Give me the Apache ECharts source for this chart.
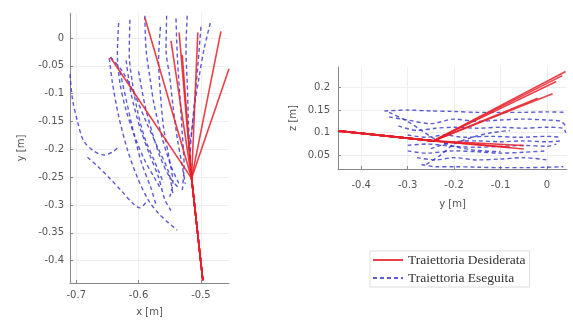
<!DOCTYPE html>
<html><head><meta charset="utf-8">
<script src="https://cdn.jsdelivr.net/npm/echarts@6/dist/echarts.min.js"></script>
<style>html,body{margin:0;padding:0;background:#fff}#c{width:573px;height:322px}</style>
</head><body><div id="c"></div>
<script>
// ---- Left plot (x-y plane) ----
const leftXTicks = [-0.7, -0.6, -0.5];
const leftYTicks = [0, -0.05, -0.1, -0.15, -0.2, -0.25, -0.3, -0.35, -0.4];
const leftDesStart = [-0.497, -0.435];
const leftDesMid = [-0.515, -0.252];
const leftDesEnds = [[-0.59, 0.037], [-0.468, 0.012], [-0.455, -0.055], [-0.505, 0.01],
  [-0.535, 0.01], [-0.645, -0.035], [-0.53, -0.03], [-0.548, -0.005]];
const leftExe = [
  [[-0.632, 0.027], [-0.634, -0.03], [-0.63, -0.08], [-0.62, -0.13], [-0.605, -0.18], [-0.59, -0.22], [-0.575, -0.25], [-0.565, -0.27]],
  [[-0.614, 0.033], [-0.615, -0.03], [-0.61, -0.08], [-0.602, -0.13], [-0.59, -0.18], [-0.575, -0.22], [-0.56, -0.26]],
  [[-0.59, 0.04], [-0.588, -0.02], [-0.582, -0.07], [-0.575, -0.12], [-0.562, -0.18], [-0.548, -0.23], [-0.535, -0.262]],
  [[-0.555, 0.04], [-0.556, -0.02], [-0.55, -0.07], [-0.545, -0.12], [-0.538, -0.18], [-0.53, -0.23], [-0.525, -0.262]],
  [[-0.522, 0.04], [-0.524, -0.02], [-0.522, -0.08], [-0.52, -0.15], [-0.518, -0.2], [-0.515, -0.255]],
  [[-0.485, 0.027], [-0.495, -0.02], [-0.503, -0.07], [-0.51, -0.12], [-0.515, -0.17], [-0.518, -0.22]],
  [[-0.565, 0.02], [-0.568, -0.04], [-0.565, -0.1], [-0.56, -0.16], [-0.552, -0.21], [-0.545, -0.26], [-0.55, -0.285]],
  [[-0.71, -0.065], [-0.706, -0.11], [-0.698, -0.15], [-0.688, -0.185], [-0.672, -0.203], [-0.656, -0.21], [-0.642, -0.205], [-0.632, -0.195]],
  [[-0.682, -0.214], [-0.666, -0.23], [-0.648, -0.25], [-0.628, -0.274], [-0.61, -0.296], [-0.598, -0.305], [-0.586, -0.292]],
  [[-0.647, -0.036], [-0.642, -0.08], [-0.632, -0.14], [-0.618, -0.2], [-0.602, -0.25], [-0.585, -0.29], [-0.568, -0.315], [-0.552, -0.332], [-0.538, -0.345]],
  [[-0.645, -0.034], [-0.626, -0.06], [-0.607, -0.1], [-0.588, -0.15], [-0.568, -0.2], [-0.552, -0.24], [-0.545, -0.28]],
  [[-0.63, -0.06], [-0.62, -0.11], [-0.608, -0.17], [-0.595, -0.225], [-0.58, -0.27], [-0.572, -0.3]],
  [[-0.6, -0.06], [-0.59, -0.12], [-0.578, -0.17], [-0.565, -0.215], [-0.55, -0.25], [-0.535, -0.27]],
  [[-0.62, -0.04], [-0.612, -0.1], [-0.598, -0.16], [-0.582, -0.21], [-0.568, -0.25], [-0.558, -0.29], [-0.548, -0.31]],
  [[-0.54, 0.035], [-0.538, -0.03], [-0.534, -0.1], [-0.53, -0.17], [-0.527, -0.23], [-0.53, -0.275]],
  [[-0.5, 0.02], [-0.505, -0.05], [-0.51, -0.11], [-0.515, -0.17], [-0.52, -0.2]]
];
// ---- Right plot (y-z plane) ----
const rightXTicks = [-0.4, -0.3, -0.2, -0.1, 0];
const rightYTicks = [0.05, 0.1, 0.15, 0.2];
const rightDesStart = [-0.45, 0.104];
const rightDesMid = [-0.245, 0.082];
const rightDesEnds = [[0.04, 0.235], [0.033, 0.226], [0.02, 0.213], [0.012, 0.186], [-0.02, 0.176],
  [-0.05, 0.072], [-0.08, 0.068], [-0.05, 0.064]];
const rightExe = [
  [[-0.35, 0.148], [-0.3, 0.15], [-0.25, 0.148], [-0.2, 0.147], [-0.15, 0.145], [-0.1, 0.145], [-0.05, 0.145], [0, 0.146], [0.04, 0.145]],
  [[-0.34, 0.135], [-0.3, 0.128], [-0.25, 0.12], [-0.2, 0.13], [-0.15, 0.125], [-0.1, 0.128], [-0.05, 0.13], [0, 0.128], [0.03, 0.125], [0.04, 0.115]],
  [[-0.32, 0.115], [-0.28, 0.105], [-0.24, 0.11], [-0.2, 0.112], [-0.15, 0.11], [-0.1, 0.112], [-0.05, 0.11], [0, 0.112], [0.035, 0.11], [0.04, 0.1]],
  [[-0.3, 0.095], [-0.26, 0.09], [-0.22, 0.095], [-0.18, 0.09], [-0.12, 0.092], [-0.06, 0.09], [0, 0.092], [0.03, 0.09]],
  [[-0.3, 0.072], [-0.26, 0.075], [-0.2, 0.07], [-0.15, 0.068], [-0.1, 0.07], [-0.05, 0.072], [0, 0.07], [0.02, 0.075]],
  [[-0.3, 0.06], [-0.26, 0.055], [-0.2, 0.06], [-0.15, 0.058], [-0.1, 0.055], [-0.05, 0.057], [0, 0.06]],
  [[-0.28, 0.045], [-0.24, 0.04], [-0.2, 0.045], [-0.15, 0.04], [-0.1, 0.042], [-0.05, 0.045], [0, 0.04]],
  [[-0.27, 0.03], [-0.24, 0.025], [-0.2, 0.025], [-0.15, 0.024], [-0.1, 0.023], [-0.05, 0.023], [0, 0.024], [0.035, 0.025]],
  [[-0.34, 0.145], [-0.3, 0.125], [-0.27, 0.105], [-0.24, 0.085], [-0.2, 0.07], [-0.16, 0.062], [-0.1, 0.058]],
  [[-0.26, 0.03], [-0.23, 0.05], [-0.2, 0.075], [-0.16, 0.09], [-0.12, 0.1], [-0.08, 0.105]],
  [[-0.25, 0.065], [-0.2, 0.08], [-0.15, 0.082], [-0.1, 0.08], [-0.05, 0.082], [0, 0.08], [0.03, 0.082]]
];
const names = ['Traiettoria Desiderata', 'Traiettoria Eseguita'];

const RED = 'rgba(232,30,40,0.85)';
const BLUE = 'rgba(50,50,200,0.8)';
function fmt(v) { return String(Math.round(v * 1000) / 1000); }
const series = [];
leftExe.forEach(t => series.push({type: 'line', name: names[1], xAxisIndex: 0, yAxisIndex: 0, data: t, symbol: 'none', smooth: 0.3,
  lineStyle: {color: BLUE, width: 1.4, type: [4, 3]}, itemStyle: {color: BLUE}, z: 2}));
leftDesEnds.forEach(e => series.push({type: 'line', name: names[0], xAxisIndex: 0, yAxisIndex: 0,
  data: [leftDesStart, leftDesMid, e], symbol: 'none', lineStyle: {color: RED, width: 1.6}, itemStyle: {color: RED}, z: 3}));
rightExe.forEach(t => series.push({type: 'line', name: names[1], xAxisIndex: 1, yAxisIndex: 1, data: t, symbol: 'none', smooth: 0.3,
  lineStyle: {color: BLUE, width: 1.4, type: [4, 3]}, itemStyle: {color: BLUE}, z: 2}));
rightDesEnds.forEach(e => series.push({type: 'line', name: names[0], xAxisIndex: 1, yAxisIndex: 1,
  data: [rightDesStart, rightDesMid, e], symbol: 'none', lineStyle: {color: RED, width: 1.6}, itemStyle: {color: RED}, z: 3}));

const axisCommon = {
  type: 'value',
  axisLine: {show: true, onZero: false, lineStyle: {color: '#888', width: 1}},
  axisTick: {show: true, inside: true, length: 3, lineStyle: {color: '#888'}},
  splitLine: {show: true, lineStyle: {color: '#eee', width: 1}},
  nameTextStyle: {color: '#555', fontSize: 10, fontFamily: 'DejaVu Sans'}
};
function axis(extra, ticks, margin) {
  return Object.assign({}, axisCommon, extra, {
    axisLabel: {color: '#555', fontSize: 10, fontFamily: 'DejaVu Sans', customValues: ticks, formatter: fmt, margin: margin},
    axisTick: Object.assign({}, axisCommon.axisTick, {customValues: ticks})
  });
}
const chart = echarts.init(document.getElementById('c'), null, {renderer: 'canvas'});
chart.setOption({
  animation: false,
  backgroundColor: '#fff',
  grid: [
    {left: 70, top: 13, width: 159, height: 270},
    {left: 338, top: 67, width: 229, height: 102}
  ],
  xAxis: [
    axis({gridIndex: 0, min: -0.71, max: -0.455, name: 'x [m]', nameLocation: 'middle', nameGap: 24}, leftXTicks, 7),
    axis({gridIndex: 1, min: -0.45, max: 0.043, name: 'y [m]', nameLocation: 'middle', nameGap: 30}, rightXTicks, 11)
  ],
  yAxis: [
    axis({gridIndex: 0, min: -0.44, max: 0.045, name: 'y [m]', nameLocation: 'middle', nameGap: 44}, leftYTicks, 6),
    axis({gridIndex: 1, min: 0.02, max: 0.245, name: 'z [m]', nameLocation: 'middle', nameGap: 40}, rightYTicks, 8)
  ],
  legend: {
    left: 370, top: 251, orient: 'vertical', itemWidth: 30, itemHeight: 12, itemGap: 3, itemGap: 4,
    data: names,
    itemStyle: {opacity: 0},
    textStyle: {fontFamily: 'Liberation Serif', fontSize: 13.5, color: '#333'},
    borderColor: '#ddd', borderWidth: 1, padding: [2, 4, 2, 2]
  },
  series: series
});
</script></body></html>
